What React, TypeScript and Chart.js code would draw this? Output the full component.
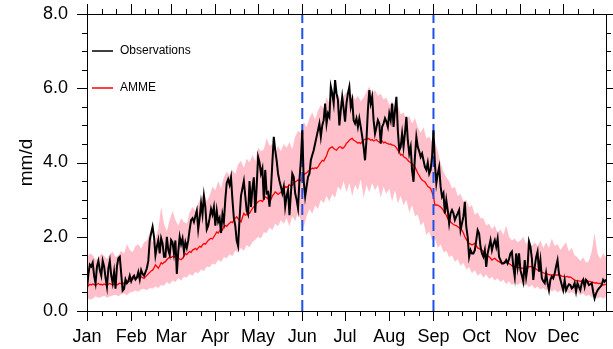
import React, { useEffect, useRef } from "react";
import { Chart, registerables } from "chart.js";

Chart.register(...registerables);

// ---------- data ----------
const monthLabels = ["Jan", "Feb", "Mar", "Apr", "May", "Jun", "Jul", "Aug", "Sep", "Oct", "Nov", "Dec"];
const monthStartDays = [0, 31, 59, 90, 120, 151, 181, 212, 243, 273, 304, 334];
const monthLengths = [31, 28, 31, 30, 31, 30, 31, 31, 30, 31, 30, 31];
const markerDays = [151, 243];
const yTickValues = [0, 2, 4, 6, 8];

// daily observed precipitation (mm/d), day 0 = 1 Jan
const observations = [
  0.60, 1.00, 1.25, 1.20, 1.30, 0.95, 0.75, 1.20, 1.35, 1.10,
  0.95, 1.35, 1.20, 0.90, 0.65, 1.15, 1.35, 0.95, 0.75, 1.05,
  0.60, 1.20, 1.42, 1.46, 1.00, 0.55, 0.60, 0.85, 0.75, 0.80,
  0.95, 0.80, 0.90, 0.95, 0.85, 0.90, 1.05, 0.85, 1.10, 1.00,
  0.95, 1.05, 1.15, 1.35, 1.90, 2.10, 2.27, 2.00, 1.50, 1.73,
  1.91, 1.55, 1.96, 1.82, 1.46, 1.46, 2.00, 1.64, 1.51, 1.91,
  1.85, 1.55, 1.90, 1.00, 1.60, 2.00, 1.80, 1.95, 1.60, 1.85,
  1.70, 1.90, 2.20, 2.45, 2.50, 2.40, 2.55, 2.70, 2.20, 2.50,
  2.90, 2.60, 3.10, 2.80, 2.20, 2.30, 2.50, 2.75, 2.60, 2.80,
  2.30, 2.70, 2.40, 2.50, 2.10, 2.60, 2.40, 3.00, 3.45, 3.55,
  3.40, 3.60, 3.00, 2.50, 2.30, 1.90, 1.75, 2.50, 3.10, 3.30,
  3.50, 3.10, 2.70, 2.60, 3.50, 2.80, 3.30, 3.60, 2.65, 3.35,
  4.15, 4.00, 3.70, 3.84, 3.00, 3.80, 3.17, 3.20, 2.81, 3.26,
  4.00, 4.69, 4.33, 4.06, 3.70, 3.50, 3.35, 3.17, 3.35, 2.81,
  3.10, 3.26, 2.58, 3.17, 3.70, 3.61, 3.17, 3.00, 2.77, 3.53,
  4.06, 4.87, 3.50, 3.08, 3.35, 3.61, 3.70, 4.06, 4.20, 4.33,
  4.51, 4.69, 4.87, 5.05, 4.69, 5.00, 5.14, 5.59, 5.05, 5.32,
  5.23, 6.04, 5.86, 5.59, 6.22, 5.86, 5.68, 5.00, 5.41, 5.77,
  5.45, 5.10, 5.60, 5.86, 6.04, 5.50, 5.68, 5.14, 5.05, 5.19,
  4.96, 5.19, 4.96, 4.70, 4.42, 4.06, 4.60, 5.41, 5.95, 5.59,
  5.77, 5.14, 4.78, 4.95, 5.14, 5.05, 4.51, 4.96, 5.05, 5.19,
  5.10, 4.96, 5.32, 5.14, 5.59, 4.96, 5.40, 5.77, 4.87, 4.33,
  4.42, 4.78, 4.42, 4.80, 5.23, 4.60, 4.24, 4.42, 3.79, 3.48,
  4.15, 4.69, 4.42, 4.30, 4.15, 4.24, 4.06, 3.88, 3.80, 4.00,
  3.70, 3.80, 4.15, 4.87, 3.97, 3.44, 3.70, 3.88, 3.35, 3.08,
  3.17, 2.63, 2.99, 2.72, 2.36, 2.63, 2.72, 2.63, 2.45, 2.55,
  2.63, 2.72, 2.18, 2.36, 2.54, 2.94, 2.27, 1.99, 1.46, 1.64,
  1.55, 1.55, 1.64, 1.91, 2.18, 2.09, 1.73, 1.55, 1.46, 1.64,
  1.19, 1.55, 1.73, 1.91, 1.64, 1.80, 1.91, 1.73, 1.95, 1.46,
  1.37, 1.28, 1.28, 1.30, 1.37, 1.28, 1.40, 1.55, 1.60, 1.19,
  0.92, 1.55, 1.19, 1.55, 1.10, 0.95, 0.79, 1.37, 0.92, 1.19,
  1.87, 1.73, 1.42, 0.84, 1.19, 1.45, 1.60, 1.06, 1.37, 0.88,
  0.80, 0.75, 1.02, 0.75, 0.56, 0.84, 0.93, 0.88, 1.01, 1.20,
  1.37, 1.01, 0.85, 0.70, 0.56, 0.83, 0.56, 0.65, 0.72, 0.70,
  0.61, 0.65, 0.75, 0.52, 0.75, 0.65, 0.56, 0.75, 0.84, 0.65,
  0.84, 0.79, 0.70, 0.72, 0.75, 0.52, 0.34, 0.47, 0.55, 0.61,
  0.65, 0.70, 0.84, 0.79, 0.85,
];

// daily AMME ensemble mean (mm/d)
const amme = [
  0.70, 0.68, 0.72, 0.70, 0.73, 0.71, 0.69, 0.72, 0.74, 0.71,
  0.72, 0.70, 0.73, 0.71, 0.69, 0.72, 0.74, 0.72, 0.70, 0.73,
  0.72, 0.70, 0.73, 0.75, 0.74, 0.72, 0.76, 0.75, 0.79, 0.82,
  0.80, 0.84, 0.86, 0.88, 0.86, 0.90, 0.92, 0.94, 0.92, 0.90,
  0.88, 0.92, 0.96, 1.00, 1.04, 1.08, 1.10, 1.16, 1.24, 1.20,
  1.15, 1.22, 1.30, 1.27, 1.31, 1.33, 1.38, 1.42, 1.46, 1.44,
  1.47, 1.45, 1.48, 1.46, 1.42, 1.40, 1.38, 1.42, 1.48, 1.55,
  1.52, 1.57, 1.60, 1.58, 1.64, 1.66, 1.69, 1.65, 1.70, 1.74,
  1.72, 1.78, 1.82, 1.80, 1.85, 1.90, 1.93, 1.96, 1.94, 2.00,
  2.06, 2.13, 2.10, 2.16, 2.20, 2.18, 2.27, 2.30, 2.28, 2.33,
  2.36, 2.40, 2.38, 2.45, 2.50, 2.54, 2.48, 2.44, 2.40, 2.52,
  2.63, 2.58, 2.60, 2.65, 2.63, 2.70, 2.76, 2.81, 2.86, 2.90,
  2.94, 2.97, 2.98, 2.95, 3.00, 3.08, 3.05, 3.02, 3.06, 3.00,
  3.10, 3.15, 3.21, 3.18, 3.14, 3.17, 3.20, 3.26, 3.30, 3.35,
  3.33, 3.36, 3.40, 3.37, 3.39, 3.44, 3.48, 3.50, 3.53, 3.50,
  3.53, 3.60, 3.66, 3.70, 3.72, 3.76, 3.79, 3.82, 3.85, 3.83,
  3.86, 3.84, 3.88, 3.95, 4.00, 4.06, 4.04, 4.11, 4.18, 4.30,
  4.38, 4.40, 4.42, 4.38, 4.35, 4.33, 4.38, 4.42, 4.42, 4.38,
  4.40, 4.45, 4.52, 4.55, 4.60, 4.63, 4.65, 4.60, 4.58, 4.55,
  4.52, 4.54, 4.51, 4.56, 4.60, 4.63, 4.62, 4.65, 4.63, 4.60,
  4.62, 4.58, 4.60, 4.62, 4.57, 4.55, 4.55, 4.58, 4.53, 4.55,
  4.52, 4.51, 4.49, 4.50, 4.47, 4.47, 4.44, 4.40, 4.33, 4.28,
  4.20, 4.22, 4.16, 4.13, 4.11, 4.06, 4.02, 4.00, 3.97, 3.92,
  3.88, 3.80, 3.71, 3.65, 3.58, 3.53, 3.50, 3.48, 3.42, 3.35,
  3.33, 3.30, 3.20, 3.08, 2.85, 2.86, 2.85, 2.83, 2.80, 2.76,
  2.70, 2.63, 2.58, 2.49, 2.45, 2.40, 2.36, 2.33, 2.31, 2.30,
  2.27, 2.24, 2.21, 2.18, 2.10, 2.00, 1.93, 1.86, 1.82, 1.80,
  1.78, 1.80, 1.82, 1.76, 1.70, 1.68, 1.66, 1.64, 1.60, 1.55,
  1.52, 1.49, 1.46, 1.42, 1.37, 1.40, 1.42, 1.38, 1.35, 1.33,
  1.30, 1.28, 1.30, 1.33, 1.31, 1.29, 1.28, 1.25, 1.22, 1.20,
  1.19, 1.18, 1.17, 1.17, 1.16, 1.15, 1.16, 1.15, 1.17, 1.18,
  1.19, 1.20, 1.19, 1.17, 1.15, 1.13, 1.10, 1.10, 1.08, 1.05,
  1.03, 1.01, 1.00, 0.99, 0.98, 0.97, 0.97, 0.98, 0.96, 0.97,
  0.97, 0.97, 0.96, 0.94, 0.93, 0.92, 0.92, 0.93, 0.91, 0.92,
  0.89, 0.86, 0.83, 0.82, 0.81, 0.81, 0.80, 0.82, 0.83, 0.83,
  0.83, 0.81, 0.80, 0.79, 0.78, 0.77, 0.75, 0.76, 0.75, 0.74,
  0.75, 0.72, 0.70, 0.71, 0.72,
];

// ensemble spread, one value every bandStepDays days
const bandStepDays = 2;
const ammeUpper = [
  1.45, 1.55, 1.50, 1.38, 1.42, 1.55, 1.48, 1.40, 1.52, 1.60,
  1.45, 1.50, 1.62, 1.55, 1.80, 1.65, 1.58, 1.75, 1.80, 1.68,
  1.85, 1.90, 2.10, 1.85, 1.95, 2.20, 2.80, 2.35, 2.15, 2.45,
  2.70, 2.45, 2.30, 2.50, 2.40, 2.35, 2.65, 2.80, 2.70, 2.90,
  3.05, 3.20, 2.95, 3.10, 3.35, 3.25, 3.50, 3.30, 3.60, 3.75,
  3.65, 3.80, 3.70, 3.95, 4.05, 3.85, 4.10, 4.00, 4.20, 4.05,
  4.40, 4.30, 4.35, 4.65, 4.45, 4.50, 4.25, 4.45, 4.30, 4.50,
  4.40, 4.55, 4.35, 4.70, 4.85, 4.80, 5.10, 4.95, 5.20, 5.35,
  5.15, 5.40, 5.55, 5.45, 5.75, 5.60, 5.90, 5.80, 5.85, 5.65,
  5.80, 5.90, 5.75, 5.85, 5.70, 5.80, 5.65, 5.75, 5.90, 6.05,
  5.85, 5.95, 5.80, 5.85, 5.70, 5.75, 5.55, 5.65, 5.50, 5.55,
  5.30, 5.35, 5.15, 5.25, 5.05, 5.20, 4.95, 4.80, 4.95, 4.65,
  4.70, 4.55, 4.60, 4.30, 4.00, 3.75, 3.60, 3.50, 3.30, 3.35,
  3.10, 3.15, 2.95, 3.00, 2.80, 2.85, 2.60, 2.65, 2.50, 2.50,
  2.30, 2.35, 2.20, 2.30, 2.10, 2.20, 2.05, 2.30, 2.00, 1.90,
  1.95, 1.85, 1.90, 2.00, 1.80, 1.95, 1.75, 1.85, 1.75, 1.90,
  1.70, 1.85, 1.70, 1.95, 1.75, 1.80, 1.65, 1.75, 1.85, 1.60,
  1.70, 1.50, 1.45, 1.35, 1.45, 1.30, 1.35, 1.60, 2.10, 1.55,
  1.40, 1.55, 1.45,
];
const ammeLower = [
  0.35, 0.30, 0.33, 0.40, 0.36, 0.38, 0.42, 0.36, 0.40, 0.42,
  0.44, 0.40, 0.45, 0.48, 0.42, 0.50, 0.52, 0.55, 0.52, 0.58,
  0.60, 0.56, 0.62, 0.60, 0.66, 0.62, 0.70, 0.68, 0.78, 0.72,
  0.82, 0.78, 0.88, 0.82, 0.92, 0.90, 1.00, 0.95, 1.05, 1.02,
  1.12, 1.08, 1.20, 1.18, 1.28, 1.25, 1.38, 1.32, 1.45, 1.42,
  1.52, 1.48, 1.62, 1.58, 1.70, 1.62, 1.78, 1.72, 1.85, 1.92,
  2.00, 1.95, 2.12, 2.10, 2.25, 2.18, 2.35, 2.28, 2.45, 2.35,
  2.50, 2.28, 2.55, 2.42, 2.65, 2.45, 2.25, 2.55, 2.75, 2.62,
  2.85, 2.75, 3.00, 2.90, 3.10, 2.95, 3.15, 3.05, 3.35, 3.25,
  3.50, 3.20, 3.45, 3.10, 3.40, 3.25, 3.55, 3.05, 3.40, 3.20,
  3.45, 3.25, 3.40, 3.05, 3.35, 3.15, 3.30, 2.95, 3.25, 2.90,
  3.10, 2.85, 3.00, 2.65, 2.85, 2.55, 2.60, 2.30, 2.40, 2.05,
  2.15, 1.90, 1.95, 1.70, 1.80, 1.58, 1.62, 1.45, 1.50, 1.32,
  1.40, 1.22, 1.30, 1.12, 1.18, 1.02, 1.10, 0.95, 1.02, 0.90,
  0.98, 0.86, 0.92, 0.82, 0.88, 0.78, 0.84, 0.72, 0.80, 0.70,
  0.76, 0.70, 0.76, 0.66, 0.72, 0.64, 0.70, 0.60, 0.66, 0.58,
  0.62, 0.55, 0.60, 0.52, 0.58, 0.50, 0.56, 0.50, 0.54, 0.47,
  0.52, 0.46, 0.50, 0.43, 0.47, 0.40, 0.44, 0.37, 0.40, 0.34,
  0.38, 0.34, 0.38,
];

// ---------- styling ----------
const FONT = "'Liberation Sans', Arial, Helvetica, sans-serif";
const W = 613;
const H = 349;

const decorPlugin = {
  id: "decor",
  afterDraw(chart: any) {
    const { ctx, chartArea: a } = chart;
    const x = chart.scales.x;
    const y = chart.scales.y;
    ctx.save();
    ctx.strokeStyle = "#000";
    ctx.lineWidth = 1;
    ctx.strokeRect(a.left + 0.5, a.top + 0.5, a.right - a.left, a.bottom - a.top);
    ctx.beginPath();
    monthStartDays.forEach((start, i) => {
      const len = monthLengths[i];
      const marks: [number, number][] = [
        [start, 10],
        [start + len / 3, 5],
        [start + (2 * len) / 3, 5],
      ];
      marks.forEach(([d, l]) => {
        const px = Math.round(x.getPixelForValue(d)) + 0.5;
        ctx.moveTo(px, a.bottom);
        ctx.lineTo(px, a.bottom + l);
        ctx.moveTo(px, a.top);
        ctx.lineTo(px, a.top - l);
      });
    });
    for (let v = 0; v <= 8.001; v += 0.5) {
      const l = Math.abs(v % 2) < 1e-6 ? 10 : 5;
      const py = Math.round(y.getPixelForValue(v)) + 0.5;
      ctx.moveTo(a.left, py);
      ctx.lineTo(a.left - l, py);
      ctx.moveTo(a.right, py);
      ctx.lineTo(a.right + l, py);
    }
    ctx.stroke();

    // legend
    const lx = a.left + 5;
    ctx.font = `12px ${FONT}`;
    ctx.textBaseline = "middle";
    ctx.textAlign = "left";
    const items: [string, string, number][] = [
      ["Observations", "#000000", a.top + 37],
      ["AMME", "#ff0000", a.top + 74],
    ];
    items.forEach(([label, color, ly]) => {
      ctx.beginPath();
      ctx.strokeStyle = color;
      ctx.lineWidth = 1.5;
      ctx.moveTo(lx, ly);
      ctx.lineTo(lx + 21, ly);
      ctx.stroke();
      ctx.fillStyle = "#000";
      ctx.fillText(label, lx + 28, ly);
    });
    ctx.restore();
  },
};

export default function App() {
  const ref = useRef<HTMLCanvasElement>(null);

  useEffect(() => {
    if (!ref.current) return;
    const bandPoints = (arr: number[]) => arr.map((v, i) => ({ x: i * bandStepDays, y: v }));
    const markerSets = markerDays.map((d) => ({
      label: "marker" + d,
      data: [
        { x: d, y: 0 },
        { x: d, y: 8 },
      ],
      borderColor: "rgb(30,80,235)",
      borderWidth: 2,
      borderDash: [11, 5],
      pointRadius: 0,
      fill: false,
      order: 1,
    }));

    const chart = new Chart(ref.current, {
      type: "line",
      data: {
        datasets: [
          {
            label: "Observations",
            data: observations.map((v, i) => ({ x: i, y: v })),
            borderColor: "#000000",
            borderWidth: 2,
            pointRadius: 0,
            fill: false,
            order: 0,
          },
          ...markerSets,
          {
            label: "AMME",
            data: amme.map((v, i) => ({ x: i, y: v })),
            borderColor: "#ff0000",
            borderWidth: 1.3,
            pointRadius: 0,
            fill: false,
            order: 2,
          },
          {
            label: "upper",
            data: bandPoints(ammeUpper),
            borderColor: "rgba(0,0,0,0)",
            borderWidth: 0,
            backgroundColor: "rgb(255,192,203)",
            pointRadius: 0,
            fill: "+1",
            order: 3,
          },
          {
            label: "lower",
            data: bandPoints(ammeLower),
            borderColor: "rgba(0,0,0,0)",
            borderWidth: 0,
            pointRadius: 0,
            fill: false,
            order: 4,
          },
        ],
      } as any,
      options: {
        responsive: false,
        animation: false,
        devicePixelRatio: 1,
        layout: { padding: { top: 14, right: 7, left: 0, bottom: 0 } },
        plugins: {
          legend: { display: false },
          tooltip: { enabled: false },
        },
        elements: { line: { tension: 0 } },
        scales: {
          x: {
            type: "linear",
            min: 0,
            max: 364,
            grid: { display: false, drawTicks: false },
            border: { display: false },
            afterBuildTicks: (s: any) => {
              s.ticks = monthStartDays.map((v) => ({ value: v }));
            },
            afterFit: (s: any) => {
              s.height = H - 311;
              s.paddingLeft = 0;
              s.paddingRight = 0;
            },
            ticks: {
              autoSkip: false,
              maxRotation: 0,
              minRotation: 0,
              padding: 15,
              color: "#000",
              font: { family: FONT, size: 18 },
              callback: (value: any) => {
                const idx = monthStartDays.indexOf(Number(value));
                return idx >= 0 ? monthLabels[idx] : "";
              },
            },
          },
          y: {
            type: "linear",
            min: 0,
            max: 8,
            grid: { display: false, drawTicks: false },
            border: { display: false },
            afterBuildTicks: (s: any) => {
              s.ticks = yTickValues.map((v) => ({ value: v }));
            },
            afterFit: (s: any) => {
              s.width = 87;
              s.paddingTop = 0;
              s.paddingBottom = 0;
            },
            ticks: {
              padding: 19,
              color: "#000",
              font: { family: FONT, size: 18 },
              callback: (value: any) => Number(value).toFixed(1),
            },
            title: {
              display: true,
              text: "mm/d",
              color: "#000",
              font: { family: FONT, size: 19 },
              padding: { top: 15, bottom: 0 },
            },
          },
        },
      } as any,
      plugins: [decorPlugin],
    });
    return () => chart.destroy();
  }, []);

  return (
    <div style={{ position: "fixed", left: 0, top: 0, width: W, height: H, background: "#fff" }}>
      <canvas ref={ref} width={W} height={H} style={{ display: "block", width: W, height: H }} />
    </div>
  );
}
